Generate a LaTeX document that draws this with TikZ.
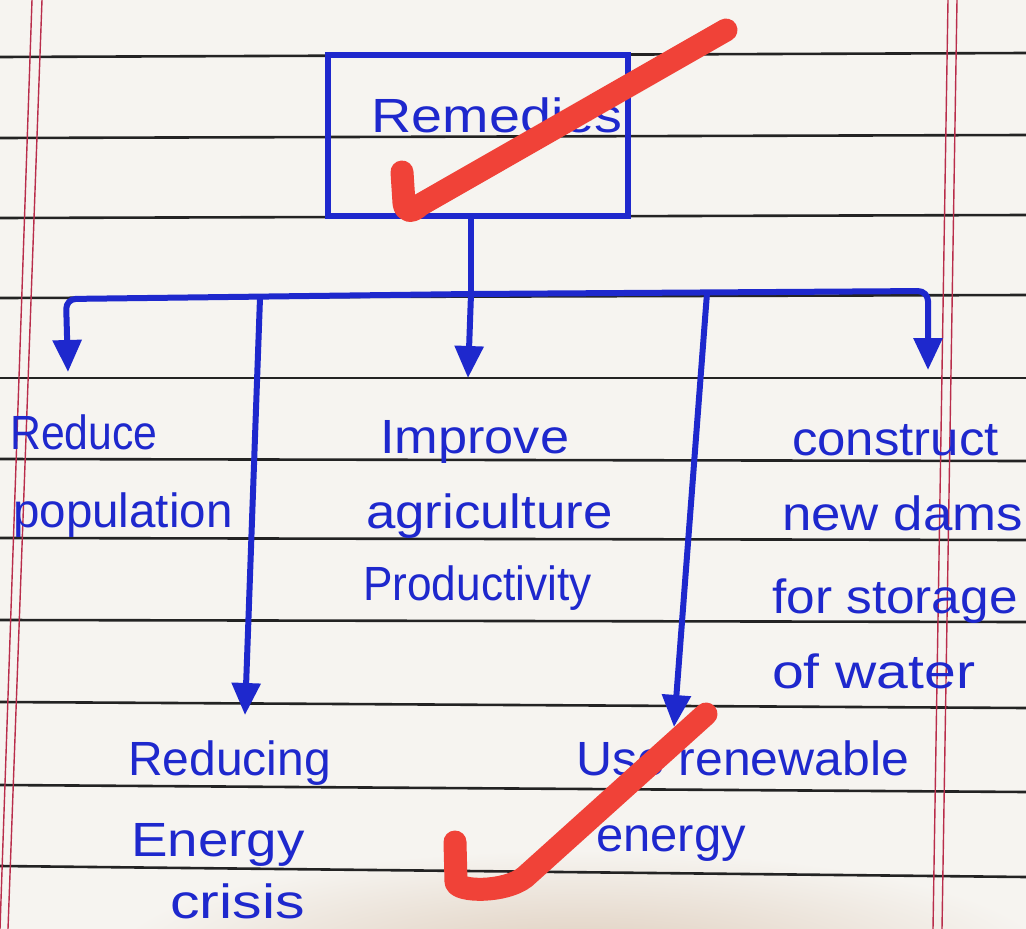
\documentclass[tikz,border=0pt]{standalone}
\usepackage{fontspec}
\setmainfont{Liberation Sans}
\usepackage{graphicx}
\usetikzlibrary{arrows.meta}
\definecolor{ink}{RGB}{30,40,205}
\definecolor{paper}{RGB}{246,244,240}
\definecolor{rulec}{RGB}{35,35,35}
\definecolor{marginc}{RGB}{185,45,75}
\definecolor{tickc}{RGB}{240,66,56}
\definecolor{shadowc}{RGB}{222,205,188}
\newcommand\hwx[2]{\scalebox{#1}[1]{#2}}
\begin{document}
\begin{tikzpicture}[x=1pt,y=-1pt,
  hand/.style={text=ink, font=\fontsize{48}{54}\selectfont, anchor=base west, inner sep=0pt},
  inkline/.style={draw=ink, line width=6pt},
  conn/.style={inkline, -{Triangle[length=32pt,width=28pt]}, rounded corners=10pt},
  ruled/.style={draw=rulec, line width=2.6pt},
  redline/.style={draw=marginc, line width=1.4pt},
  tickmark/.style={draw=tickc, line width=23pt, line cap=round, line join=round}]
\useasboundingbox (0,0) rectangle (1026,929);
\fill[paper] (0,0) rectangle (1026,929);
\begin{scope}
  \clip (0,0) rectangle (1026,929);
  \shade[inner color=shadowc, outer color=paper] (580,960) ellipse [x radius=470, y radius=110];
\end{scope}
% ruled paper
\foreach \a/\b in {57/53, 138/135, 218/215, 298/295, 378/378, 459/461, 538/540, 620/622, 702/708, 785/792, 866/877}
  \draw[ruled] (0,\a) -- (1026,\b);
\draw[redline] (32,0) -- (0,929);
\draw[redline] (42,0) -- (8,929);
\draw[redline] (948,0) -- (933,929);
\draw[redline] (957,0) -- (942,929);
% box
\node[inkline, inner sep=0pt, minimum width=300pt, text height=77pt, text depth=84pt,
      text=ink, font=\fontsize{48}{54}\selectfont] (box) at (478,135.5)
      {\hspace*{38pt}\hwx{1.16}{Remedies}};
% connectors
\coordinate (J) at (471,294);
\coordinate (b2) at (260,298);
\coordinate (b4) at (707,293);
\coordinate (t1) at (68,372);
\coordinate (t2) at (245,715);
\coordinate (t3) at (468,378);
\coordinate (t4) at (674,727);
\coordinate (t5) at (928,370);
\draw[inkline] (box.south -| J) -- (J);
\draw[conn] (J) -- (66,299) -- (t1);
\draw[conn] (J) -- (928,291) -- (t5);
\draw[conn] (J) -- (t3);
\draw[conn] (b2) -- (t2);
\draw[conn] (b4) -- (t4);
% texts
\node[hand] (reduceA) at (10,449) {\hwx{0.89}{Reduce}};
\node[hand] (reduceB) at (13,527) {\hwx{0.99}{population}};
\node[hand] (improveA) at (380,453) {\hwx{1.09}{Improve}};
\node[hand] (improveB) at (366,528) {\hwx{1.10}{agriculture}};
\node[hand] (improveC) at (363,600) {\hwx{0.92}{Productivity}};
\node[hand] (damsA) at (792,455) {\hwx{1.06}{construct}};
\node[hand] (damsB) at (782,530) {\hwx{1.1}{new dams}};
\node[hand] (damsC) at (772,613) {\hwx{1.07}{for storage}};
\node[hand] (damsD) at (772,688) {\hwx{1.19}{of water}};
\node[hand] (energyA) at (128,775) {\hwx{1.0}{Reducing}};
\node[hand] (energyB) at (131,856) {\hwx{1.14}{Energy}};
\node[hand] (energyC) at (170,918) {\hwx{1.23}{crisis}};
\node[hand] (renewA) at (576,775) {\hwx{1.04}{Use renewable}};
\node[hand] (renewB) at (596,851) {\hwx{1.02}{energy}};
% red ticks
\draw[tickmark] (402,172) -- (404,203) .. controls (405,212) and (412,213) .. (420,205) -- (726,30);
\draw[tickmark] (455,842) -- (456,882) .. controls (457,892) and (505,893) .. (525,877) -- (706,714);
\end{tikzpicture}
\end{document}
